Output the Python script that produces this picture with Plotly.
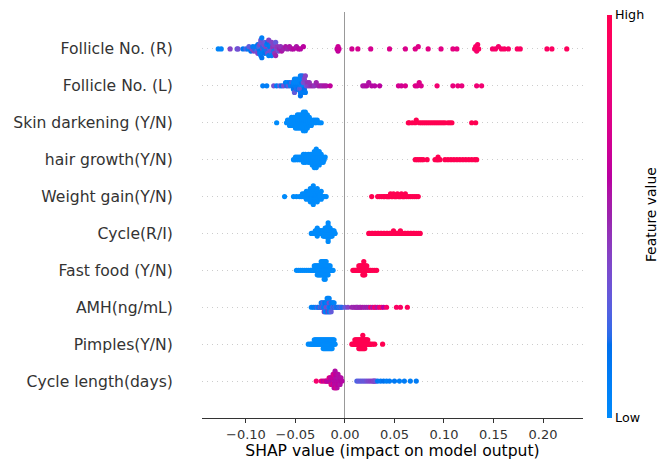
import numpy as np
import plotly.graph_objects as go

# Feature rows, listed bottom to top
features = [
    "Cycle length(days)", "Pimples(Y/N)", "AMH(ng/mL)", "Fast food (Y/N)",
    "Cycle(R/I)", "Weight gain(Y/N)", "hair growth(Y/N)",
    "Skin darkening (Y/N)", "Follicle No. (L)", "Follicle No. (R)",
]

x_tick_vals = [-0.10, -0.05, 0.00, 0.05, 0.10, 0.15, 0.20]
x_tick_text = ["\u22120.10", "\u22120.05", "0.00", "0.05", "0.10", "0.15", "0.20"]

# ---- continuous features: SHAP value and normalised feature value ----
folR_shap = [
    -0.128, -0.125, -0.116, -0.109, -0.108, -0.103, -0.100, -0.098, -0.097, -0.095,
    -0.094, -0.093, -0.092, -0.091, -0.090, -0.089, -0.088, -0.088, -0.087, -0.087,
    -0.086, -0.086, -0.086, -0.085, -0.085, -0.085, -0.084, -0.084, -0.083, -0.083,
    -0.082, -0.082, -0.081, -0.081, -0.080, -0.080, -0.079, -0.079, -0.078, -0.078,
    -0.077, -0.077, -0.076, -0.076, -0.075, -0.075, -0.074, -0.074, -0.074, -0.073,
    -0.073, -0.072, -0.072, -0.071, -0.070, -0.070, -0.069, -0.068, -0.067, -0.066,
    -0.065, -0.064, -0.062, -0.060, -0.058, -0.056, -0.054, -0.052, -0.049, -0.047,
    -0.045, -0.042,
    -0.008, -0.007, -0.007, -0.006, 0.007, 0.013, 0.026, 0.045, 0.061, 0.071,
    0.074, 0.084, 0.097, 0.109, 0.113, 0.131, 0.132, 0.133, 0.134, 0.135,
    0.149, 0.152, 0.155, 0.158, 0.161, 0.165, 0.174, 0.177, 0.204, 0.209,
    0.224,
]
folR_value = [
    0.05, 0.05, 0.40, 0.30, 0.35, 0.15, 0.25, 0.10, 0.30, 0.15,
    0.35, 0.10, 0.40, 0.20, 0.10, 0.30, 0.15, 0.40, 0.10, 0.25,
    0.15, 0.40, 0.10, 0.30, 0.10, 0.35, 0.15, 0.08, 0.40, 0.20,
    0.10, 0.35, 0.15, 0.30, 0.08, 0.40, 0.20, 0.10, 0.35, 0.15,
    0.08, 0.40, 0.30, 0.12, 0.35, 0.10, 0.25, 0.40, 0.08, 0.35,
    0.45, 0.20, 0.40, 0.45, 0.30, 0.50, 0.40, 0.45, 0.35, 0.50,
    0.45, 0.55, 0.50, 0.55, 0.50, 0.55, 0.55, 0.58, 0.55, 0.58,
    0.58, 0.60,
    0.64, 0.66, 0.62, 0.66, 0.68, 0.70, 0.70, 0.72, 0.72, 0.74,
    0.74, 0.76, 0.76, 0.78, 0.78, 0.90, 0.92, 0.88, 0.90, 0.93,
    0.88, 0.90, 0.88, 0.90, 0.92, 0.90, 0.92, 0.92, 0.93, 0.93,
    0.95,
]

folL_shap = [
    -0.083, -0.079, -0.072, -0.069, -0.066, -0.064, -0.062, -0.060, -0.059, -0.058,
    -0.057, -0.056, -0.055, -0.054, -0.053, -0.052, -0.052, -0.051, -0.051, -0.050,
    -0.050, -0.049, -0.049, -0.048, -0.048, -0.047, -0.047, -0.046, -0.046, -0.046,
    -0.045, -0.045, -0.045, -0.045, -0.044, -0.044, -0.044, -0.044, -0.043, -0.043,
    -0.042, -0.042, -0.041, -0.041, -0.040, -0.040, -0.039, -0.038, -0.037, -0.036,
    -0.035, -0.033, -0.031, -0.029, -0.027, -0.025, -0.023, -0.021, -0.019, -0.015,
    0.018, 0.020, 0.022, 0.024, 0.027, 0.030, 0.035, 0.054, 0.057, 0.061,
    0.071, 0.073, 0.075, 0.077, 0.093, 0.109, 0.114, 0.118, 0.133, 0.138,
]
folL_value = [
    0.08, 0.08, 0.35, 0.10, 0.30, 0.15, 0.35, 0.10, 0.20, 0.05,
    0.30, 0.10, 0.05, 0.25, 0.10, 0.05, 0.15, 0.05, 0.30, 0.10,
    0.05, 0.20, 0.05, 0.10, 0.05, 0.15, 0.05, 0.10, 0.05, 0.25,
    0.05, 0.10, 0.05, 0.15, 0.05, 0.10, 0.30, 0.05, 0.10, 0.20,
    0.05, 0.35, 0.15, 0.40, 0.10, 0.40, 0.35, 0.45, 0.40, 0.45,
    0.45, 0.50, 0.45, 0.50, 0.50, 0.55, 0.50, 0.55, 0.55, 0.62,
    0.56, 0.55, 0.58, 0.56, 0.58, 0.58, 0.60, 0.70, 0.68, 0.72,
    0.74, 0.72, 0.74, 0.72, 0.86, 0.80, 0.82, 0.80, 0.84, 0.86,
]

amh_shap = [
    -0.034, -0.032, -0.030, -0.028, -0.027, -0.026, -0.025, -0.024, -0.024, -0.023,
    -0.023, -0.022, -0.022, -0.021, -0.021, -0.021, -0.020, -0.020, -0.020, -0.019,
    -0.019, -0.019, -0.018, -0.018, -0.018, -0.018, -0.017, -0.017, -0.017, -0.017,
    -0.016, -0.016, -0.016, -0.016, -0.015, -0.015, -0.015, -0.014, -0.014, -0.014,
    -0.013, -0.013, -0.012, -0.012, -0.011, -0.011, -0.010, -0.009, -0.008, -0.007,
    -0.006, -0.005, -0.004, -0.003,
    0.000, 0.003, 0.007, 0.009, 0.011, 0.012, 0.013, 0.015, 0.016, 0.018,
    0.020, 0.022, 0.024, 0.026, 0.028, 0.030, 0.031, 0.033, 0.035, 0.037,
    0.039, 0.042, 0.052, 0.056, 0.063,
]
amh_value = [
    0.05, 0.10, 0.08, 0.30, 0.05, 0.12, 0.35, 0.05, 0.10, 0.40,
    0.08, 0.05, 0.30, 0.10, 0.05, 0.42, 0.08, 0.15, 0.05, 0.35,
    0.10, 0.05, 0.40, 0.08, 0.12, 0.05, 0.30, 0.10, 0.45, 0.05,
    0.08, 0.35, 0.12, 0.05, 0.10, 0.40, 0.05, 0.15, 0.08, 0.30,
    0.05, 0.10, 0.35, 0.08, 0.12, 0.05, 0.30, 0.10, 0.20, 0.15,
    0.25, 0.10, 0.30, 0.20,
    0.30, 0.40, 0.50, 0.48, 0.52, 0.50, 0.48, 0.52, 0.50, 0.55,
    0.50, 0.52, 0.50, 0.85, 0.55, 0.90, 0.80, 0.55, 0.85, 0.88,
    0.60, 0.90, 0.92, 0.92, 0.95,
]

cyclen_shap = [
    -0.029, -0.024, -0.022, -0.020, -0.019, -0.018, -0.017, -0.016, -0.016, -0.015,
    -0.015, -0.014, -0.014, -0.014, -0.013, -0.013, -0.013, -0.012, -0.012, -0.012,
    -0.012, -0.011, -0.011, -0.011, -0.011, -0.011, -0.010, -0.010, -0.010, -0.010,
    -0.010, -0.010, -0.009, -0.009, -0.009, -0.009, -0.009, -0.008, -0.008, -0.008,
    -0.008, -0.008, -0.007, -0.007, -0.007, -0.007, -0.006, -0.006, -0.006, -0.005,
    -0.005, -0.005, -0.004, -0.004, -0.003,
    0.012, 0.014, 0.016, 0.018, 0.020, 0.022, 0.024, 0.026, 0.028, 0.029,
    0.030, 0.031, 0.033, 0.036, 0.039, 0.042, 0.045, 0.050, 0.055, 0.060,
    0.066, 0.072,
]
cyclen_value = [
    0.88, 0.82, 0.62, 0.85, 0.60, 0.64, 0.58, 0.62, 0.82, 0.58,
    0.62, 0.57, 0.64, 0.85, 0.58, 0.62, 0.57, 0.60, 0.64, 0.78,
    0.58, 0.56, 0.62, 0.60, 0.82, 0.57, 0.58, 0.62, 0.56, 0.64,
    0.60, 0.57, 0.58, 0.56, 0.62, 0.60, 0.80, 0.57, 0.58, 0.56,
    0.62, 0.57, 0.58, 0.56, 0.60, 0.57, 0.58, 0.56, 0.62, 0.57,
    0.58, 0.56, 0.60, 0.57, 0.58,
    0.25, 0.30, 0.28, 0.32, 0.30, 0.35, 0.38, 0.40, 0.42, 0.38,
    0.40, 0.35, 0.12, 0.10, 0.15, 0.08, 0.10, 0.12, 0.08, 0.10,
    0.08, 0.10,
]

# ---- binary (Y/N) features: SHAP values for "No" (low) and "Yes" (high) ----
skin_no = [
    -0.069, -0.059, -0.058, -0.057, -0.056, -0.056, -0.055, -0.055, -0.054, -0.054,
    -0.053, -0.053, -0.052, -0.052, -0.051, -0.051, -0.050, -0.050, -0.050, -0.049,
    -0.049, -0.049, -0.048, -0.048, -0.048, -0.047, -0.047, -0.047, -0.046, -0.046,
    -0.046, -0.045, -0.045, -0.045, -0.044, -0.044, -0.044, -0.043, -0.043, -0.043,
    -0.043, -0.042, -0.042, -0.042, -0.042, -0.041, -0.041, -0.041, -0.041, -0.040,
    -0.040, -0.040, -0.040, -0.039, -0.039, -0.039, -0.038, -0.038, -0.038, -0.037,
    -0.037, -0.036, -0.036, -0.035, -0.035, -0.034, -0.033, -0.032, -0.031, -0.030,
    -0.029, -0.028, -0.026, -0.024,
]
skin_yes = [
    0.064, 0.065, 0.068, 0.071, 0.072, 0.075, 0.077, 0.079, 0.081, 0.083,
    0.085, 0.087, 0.089, 0.091, 0.093, 0.095, 0.097, 0.099, 0.101, 0.104,
    0.106, 0.108, 0.128, 0.132,
]

hair_no = [
    -0.052, -0.051, -0.050, -0.049, -0.048, -0.047, -0.046, -0.045, -0.044, -0.043,
    -0.043, -0.042, -0.042, -0.041, -0.041, -0.040, -0.040, -0.039, -0.039, -0.038,
    -0.038, -0.037, -0.037, -0.036, -0.036, -0.035, -0.035, -0.034, -0.034, -0.033,
    -0.033, -0.033, -0.032, -0.032, -0.032, -0.031, -0.031, -0.031, -0.031, -0.030,
    -0.030, -0.030, -0.030, -0.029, -0.029, -0.029, -0.029, -0.028, -0.028, -0.028,
    -0.028, -0.027, -0.027, -0.027, -0.026, -0.026, -0.026, -0.025, -0.025, -0.024,
    -0.024, -0.023, -0.023, -0.022, -0.021, -0.020,
]
hair_yes = [
    0.071, 0.073, 0.075, 0.077, 0.079, 0.083, 0.091, 0.093, 0.094, 0.094,
    0.096, 0.101, 0.104, 0.107, 0.110, 0.113, 0.116, 0.119, 0.122, 0.125,
    0.128, 0.131, 0.133,
]

weight_no = [
    -0.061, -0.052, -0.049, -0.046, -0.044, -0.043, -0.042, -0.041, -0.041, -0.040,
    -0.040, -0.039, -0.039, -0.038, -0.038, -0.037, -0.037, -0.036, -0.036, -0.036,
    -0.035, -0.035, -0.035, -0.034, -0.034, -0.034, -0.033, -0.033, -0.033, -0.033,
    -0.032, -0.032, -0.032, -0.032, -0.031, -0.031, -0.031, -0.031, -0.030, -0.030,
    -0.030, -0.029, -0.029, -0.029, -0.028, -0.028, -0.028, -0.027, -0.027, -0.027,
    -0.026, -0.026, -0.025, -0.025, -0.024, -0.024, -0.023, -0.022, -0.021, -0.019,
]
weight_yes = [
    0.027, 0.033, 0.035, 0.037, 0.039, 0.040, 0.042, 0.043, 0.044, 0.045,
    0.046, 0.047, 0.048, 0.049, 0.050, 0.051, 0.052, 0.053, 0.054, 0.055,
    0.056, 0.057, 0.058, 0.059, 0.060, 0.061, 0.062, 0.064, 0.066, 0.068,
    0.070, 0.072, 0.074,
]

cycle_regular = [
    -0.034, -0.033, -0.032, -0.031, -0.030, -0.030, -0.029, -0.029, -0.028, -0.028,
    -0.027, -0.027, -0.026, -0.026, -0.025, -0.025, -0.024, -0.024, -0.023, -0.023,
    -0.022, -0.022, -0.022, -0.021, -0.021, -0.021, -0.020, -0.020, -0.020, -0.020,
    -0.019, -0.019, -0.019, -0.019, -0.018, -0.018, -0.018, -0.018, -0.017, -0.017,
    -0.017, -0.017, -0.016, -0.016, -0.016, -0.016, -0.015, -0.015, -0.015, -0.015,
    -0.014, -0.014, -0.014, -0.013, -0.013, -0.013, -0.012, -0.012, -0.011, -0.011,
    -0.010,
]
cycle_irregular = [
    0.024, 0.025, 0.027, 0.028, 0.030, 0.031, 0.033, 0.034, 0.036, 0.037,
    0.039, 0.040, 0.042, 0.043, 0.045, 0.046, 0.048, 0.049, 0.051, 0.052,
    0.053, 0.054, 0.055, 0.056, 0.056, 0.057, 0.058, 0.060, 0.061, 0.063,
    0.064, 0.066, 0.067, 0.069, 0.070, 0.072, 0.074, 0.076,
]

fastfood_no = [
    -0.049, -0.047, -0.045, -0.043, -0.041, -0.039, -0.037, -0.035, -0.034, -0.033,
    -0.032, -0.031, -0.031, -0.030, -0.030, -0.029, -0.029, -0.028, -0.028, -0.028,
    -0.027, -0.027, -0.027, -0.026, -0.026, -0.026, -0.025, -0.025, -0.025, -0.024,
    -0.024, -0.024, -0.024, -0.023, -0.023, -0.023, -0.023, -0.022, -0.022, -0.022,
    -0.022, -0.021, -0.021, -0.021, -0.021, -0.021, -0.020, -0.020, -0.020, -0.020,
    -0.020, -0.019, -0.019, -0.019, -0.019, -0.018, -0.018, -0.018, -0.017, -0.017,
    -0.017, -0.016, -0.016, -0.015, -0.015, -0.014, -0.013, -0.012,
]
fastfood_yes = [
    0.008, 0.009, 0.010, 0.011, 0.012, 0.013, 0.014, 0.014, 0.015, 0.015,
    0.016, 0.016, 0.017, 0.017, 0.018, 0.018, 0.018, 0.019, 0.019, 0.019,
    0.019, 0.020, 0.020, 0.020, 0.021, 0.021, 0.022, 0.022, 0.023, 0.024,
    0.025, 0.026, 0.028, 0.030, 0.032,
]

pimples_no = [
    -0.037, -0.035, -0.034, -0.033, -0.032, -0.031, -0.031, -0.030, -0.030, -0.029,
    -0.029, -0.028, -0.028, -0.027, -0.027, -0.026, -0.026, -0.025, -0.025, -0.024,
    -0.024, -0.023, -0.023, -0.022, -0.022, -0.022, -0.021, -0.021, -0.021, -0.020,
    -0.020, -0.020, -0.019, -0.019, -0.019, -0.018, -0.018, -0.018, -0.017, -0.017,
    -0.017, -0.016, -0.016, -0.016, -0.015, -0.015, -0.015, -0.014, -0.014, -0.014,
    -0.013, -0.013, -0.013, -0.012, -0.012, -0.011, -0.011, -0.010,
]
pimples_yes = [
    0.007, 0.008, 0.009, 0.010, 0.010, 0.011, 0.011, 0.012, 0.012, 0.013,
    0.013, 0.014, 0.014, 0.014, 0.015, 0.015, 0.015, 0.016, 0.016, 0.016,
    0.017, 0.017, 0.017, 0.018, 0.018, 0.018, 0.018, 0.019, 0.019, 0.019,
    0.020, 0.020, 0.020, 0.021, 0.021, 0.022, 0.022, 0.023, 0.023, 0.024,
    0.025, 0.026, 0.028, 0.030, 0.038,
]


def binary_row(no_vals, yes_vals):
    return list(no_vals) + list(yes_vals), [0.0] * len(no_vals) + [1.0] * len(yes_vals)


def continuous_row(shap_vals, feat_vals):
    if len(shap_vals) != len(feat_vals):
        raise ValueError("length mismatch")
    return list(shap_vals), list(feat_vals)


rows = [
    continuous_row(cyclen_shap, cyclen_value),
    binary_row(pimples_no, pimples_yes),
    continuous_row(amh_shap, amh_value),
    binary_row(fastfood_no, fastfood_yes),
    binary_row(cycle_regular, cycle_irregular),
    binary_row(weight_no, weight_yes),
    binary_row(hair_no, hair_yes),
    binary_row(skin_no, skin_yes),
    continuous_row(folL_shap, folL_value),
    continuous_row(folR_shap, folR_value),
]


def swarm_offsets(vals, row_height=0.4, nbins=100):
    """Beeswarm jitter: stack points that share a bin, alternating above/below."""
    vals = np.asarray(vals, dtype=float)
    quant = np.round(nbins * (vals - vals.min()) / (vals.max() - vals.min() + 1e-8))
    order = np.argsort(quant, kind="stable")
    ys = np.zeros(len(vals))
    layer, last_bin = 0, -1
    for i in order:
        if quant[i] != last_bin:
            layer = 0
        ys[i] = np.ceil(layer / 2) * ((layer % 2) * 2 - 1)
        layer += 1
        last_bin = quant[i]
    ys *= 0.9 * (row_height / np.max(ys + 1))
    return ys


def red_blue_scale(nsteps=100):
    """Blue -> purple -> red colour scale interpolated in LCh space."""
    blue_lch = (54.0, 70.0, 4.6588)
    red_lch = (54.0, 90.0, 0.35470565 + 2 * np.pi)
    l_mid = 40.0
    l_vals = np.concatenate([np.linspace(blue_lch[0], l_mid, nsteps // 2),
                             np.linspace(l_mid, red_lch[0], nsteps // 2)])
    c_vals = np.linspace(blue_lch[1], red_lch[1], nsteps)
    h_vals = np.linspace(blue_lch[2], red_lch[2], nsteps)

    def finv(t):
        d = 6.0 / 29.0
        return np.where(t > d, t ** 3, 3 * d * d * (t - 4.0 / 29.0))

    scale = []
    for pos, L, C, H in zip(np.linspace(0, 1, nsteps), l_vals, c_vals, h_vals):
        a, b = C * np.cos(H), C * np.sin(H)
        fy = (L + 16.0) / 116.0
        fx, fz = fy + a / 500.0, fy - b / 200.0
        X, Y, Z = 0.95047 * finv(fx), 1.0 * finv(fy), 1.08883 * finv(fz)
        lin = np.array([
            3.2406 * X - 1.5372 * Y - 0.4986 * Z,
            -0.9689 * X + 1.8758 * Y + 0.0415 * Z,
            0.0557 * X - 0.2040 * Y + 1.0570 * Z,
        ])
        lin = np.clip(lin, 0, 1)
        srgb = np.where(lin <= 0.0031308, 12.92 * lin, 1.055 * lin ** (1 / 2.4) - 0.055)
        r, g, bl = (np.clip(srgb, 0, 1) * 255).round().astype(int)
        scale.append([float(pos), f"rgb({r},{g},{bl})"])
    return scale


xs, ys, cs = [], [], []
for pos, (shap_vals, feat_vals) in enumerate(rows):
    off = swarm_offsets(shap_vals)
    xs.extend(shap_vals)
    ys.extend(pos + off)
    cs.extend(feat_vals)

fig = go.Figure(go.Scatter(
    x=xs, y=ys, mode="markers", hoverinfo="skip", showlegend=False,
    marker=dict(
        size=5.2, color=cs, colorscale=red_blue_scale(), cmin=0, cmax=1,
        line=dict(width=0),
        colorbar=dict(
            thickness=5, thicknessmode="pixels", len=403, lenmode="pixels",
            x=1.064, xanchor="left", y=0, yanchor="bottom", xpad=0, ypad=0,
            outlinewidth=0, tickvals=[0, 1], ticktext=["Low", "High"],
            ticks="", ticklen=0, tickfont=dict(size=12.7, color="#000000"),
        ),
    ),
))

fig.update_layout(
    width=661, height=461,
    margin=dict(l=202, r=78, t=12, b=43),
    paper_bgcolor="white", plot_bgcolor="white",
    font=dict(family="DejaVu Sans", color="#333333"),
    xaxis=dict(
        range=[-0.1444, 0.2404], tickvals=x_tick_vals, ticktext=x_tick_text,
        ticks="outside", ticklen=4, tickwidth=1, tickcolor="#333333",
        showline=True, linecolor="#333333", linewidth=1, showgrid=False,
        zeroline=True, zerolinecolor="#999999", zerolinewidth=1.3,
        tickfont=dict(size=13, color="#333333"),
        title=dict(text="SHAP value (impact on model output)",
                   font=dict(size=15.6, color="#000000"), standoff=3),
        automargin=False, fixedrange=True,
    ),
    yaxis=dict(
        range=[-1, 10], tickvals=list(range(len(features))), ticktext=features,
        ticks="outside", ticklen=25, tickcolor="rgba(0,0,0,0)",
        showline=False, showgrid=True, gridcolor="#cccccc", gridwidth=0.8,
        griddash="1px,4px", zeroline=False,
        tickfont=dict(size=15.6, color="#333333"),
        automargin=False, fixedrange=True,
    ),
    annotations=[dict(
        text="Feature value", x=1.205, y=0.5, xref="paper", yref="paper",
        textangle=-90, showarrow=False, font=dict(size=13.9, color="#000000"),
    )],
)

fig.write_html("out.html")
